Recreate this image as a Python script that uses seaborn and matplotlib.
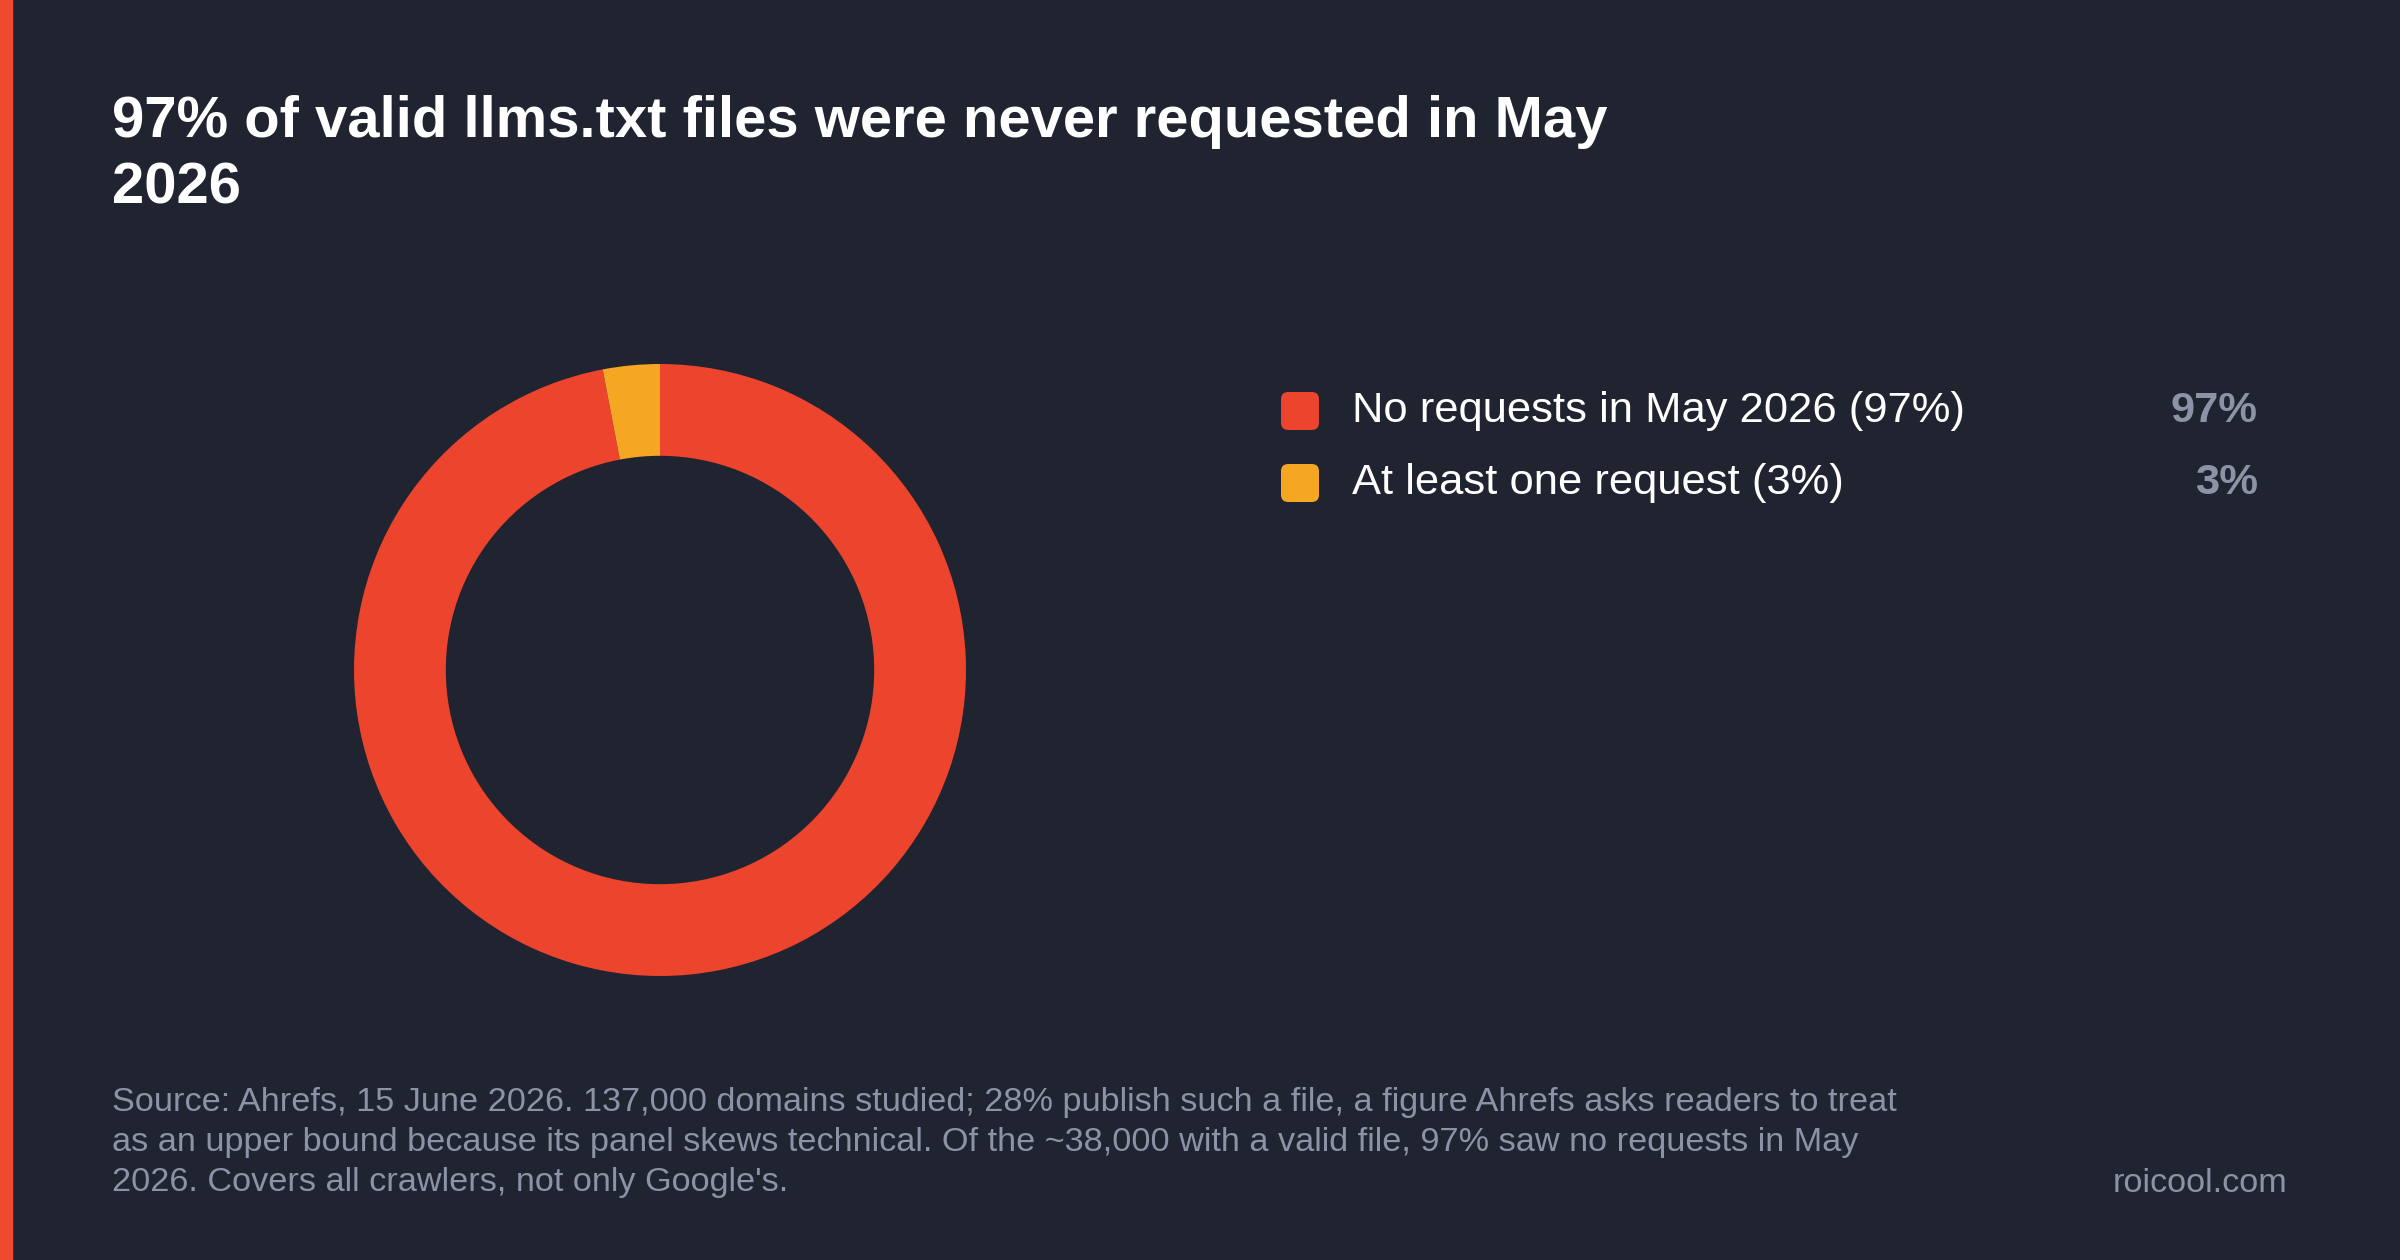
import matplotlib
matplotlib.use("Agg")
import matplotlib.pyplot as plt
import seaborn as sns
from matplotlib.patches import Rectangle, FancyBboxPatch

# data
labels = ["No requests in May 2026 (97%)", "At least one request (3%)"]
values = [97, 3]
value_labels = ["97%", "3%"]

title = "97% of valid llms.txt files were never requested in May\n2026"
footer_lines = [
    "Source: Ahrefs, 15 June 2026. 137,000 domains studied; 28% publish such a file, a figure Ahrefs asks readers to treat",
    "as an upper bound because its panel skews technical. Of the ~38,000 with a valid file, 97% saw no requests in May",
    "2026. Covers all crawlers, not only Google's.",
]
brand = "roicool.com"

BG = "#202330"
colors = sns.color_palette(["#EC442D", "#F5A623"])
MUTED = "#8C93A6"

sns.set_theme(style="dark")
plt.rcParams["font.family"] = ["Liberation Sans", "DejaVu Sans"]

W, H = 2400, 1260
fig = plt.figure(figsize=(24, 12.6), dpi=100, facecolor=BG)

# accent bar on the left edge
fig.patches.append(Rectangle((0, 0), 12 / W, 1, transform=fig.transFigure,
                             color="#EF4A2F", zorder=5))

# title
fig.text(112 / W, 1 - 95 / H, title, color="white", fontsize=41.8, fontweight="bold",
         va="top", ha="left", linespacing=1.29)

# donut
cx, cy, r = 660, 670, 306
ax = fig.add_axes([(cx - r) / W, (H - cy - r) / H, 2 * r / W, 2 * r / H])
ax.set_facecolor(BG)
ax.pie(values, colors=colors, startangle=90, counterclock=False, radius=1,
       wedgeprops=dict(width=0.30, edgecolor="none"))
ax.set_xlim(-1, 1)
ax.set_ylim(-1, 1)
ax.set_aspect("equal")
ax.axis("off")

# legend with values
rows_y = [411, 483]
for lab, val, col, y in zip(labels, value_labels, colors, rows_y):
    sq = 38
    fig.patches.append(FancyBboxPatch((1281 / W, (H - y - sq / 2) / H), sq / W, sq / H,
                                      boxstyle="round,pad=0,rounding_size=0.003",
                                      transform=fig.transFigure, facecolor=col,
                                      edgecolor="none", mutation_aspect=W / H))
    fig.text(1352 / W, 1 - y / H, lab, color="white", fontsize=31.3, va="center", ha="left")
    fig.text(2258 / W, 1 - y / H, val, color=MUTED, fontsize=31.3, fontweight="bold",
             va="center", ha="right")

# footer
for i, line in enumerate(footer_lines):
    fig.text(112 / W, 1 - (1103 + 40 * i) / H, line, color=MUTED, fontsize=24.7,
             va="center", ha="left")
fig.text(2287 / W, 1 - 1183 / H, brand, color=MUTED, fontsize=24.7, va="center", ha="right")

fig.savefig("out.png", dpi=100, facecolor=BG)
